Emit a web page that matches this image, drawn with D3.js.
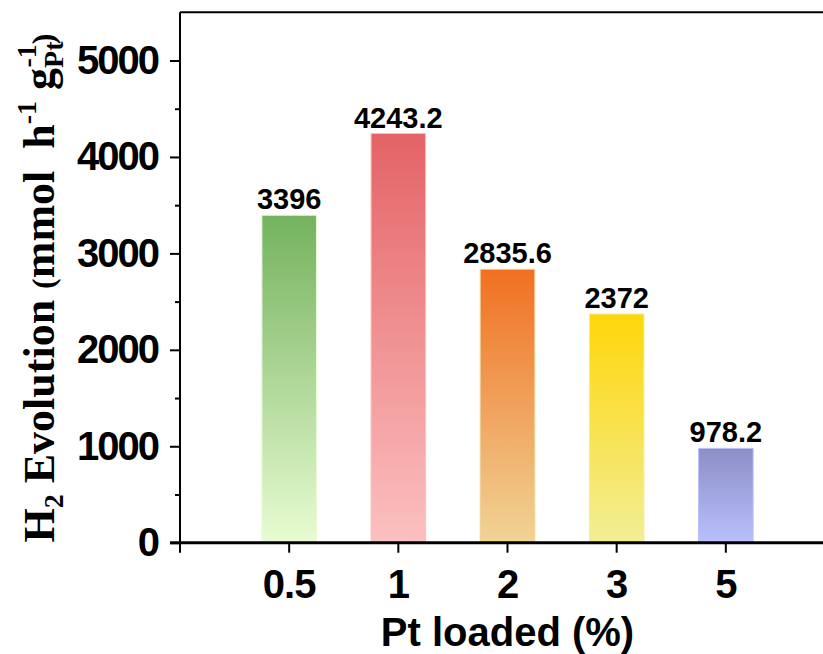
<!DOCTYPE html>
<html>
<head>
<meta charset="utf-8">
<script src="https://cdn.jsdelivr.net/npm/d3@7"></script>
<style>
  body { margin: 0; background: #fff; }
  svg { display: block; }
</style>
</head>
<body>
<svg width="823" height="654"></svg>
<script>
// data
var categories = ['0.5', '1', '2', '3', '5'];
var values = [3396, 4243.2, 2835.6, 2372, 978.2];
var valueLabels = ['3396', '4243.2', '2835.6', '2372', '978.2'];
var majorTicks = [0, 1000, 2000, 3000, 4000, 5000];
var minorTicks = [500, 1500, 2500, 3500, 4500];

// gradient colours, top -> bottom
var topColors = ['#74b25e', '#e46366', '#f07022', '#ffd60a', '#8d8ec6'];
var bottomColors = ['#e8fcd2', '#fcc0c0', '#f0d496', '#f2ee96', '#b8c0fe'];

var svg = d3.select('svg');

var x0 = 180, x1 = 835;
var step = (x1 - x0) / 6;

var xScale = d3.scaleBand()
  .domain(categories)
  .range([x0 + step / 2, x1 - step / 2])
  .paddingInner(0.5)
  .paddingOuter(0.25);

var yScale = d3.scaleLinear()
  .domain([0, 5500])
  .range([542.7, 12.3]);

/**
 * Gradients
 */
var defs = svg.append('defs');
categories.forEach(function (c, i) {
  var g = defs.append('linearGradient')
    .attr('id', 'grad' + i)
    .attr('x1', 0).attr('y1', 0)
    .attr('x2', 0).attr('y2', 1);
  g.append('stop').attr('offset', '0%').attr('stop-color', topColors[i]);
  g.append('stop').attr('offset', '100%').attr('stop-color', bottomColors[i]);
});

/**
 * Bars
 */
svg.selectAll('rect.bar')
  .data(values)
  .enter()
  .append('rect')
  .attr('class', 'bar')
  .attr('x', function (d, i) { return xScale(categories[i]); })
  .attr('width', xScale.bandwidth())
  .attr('y', function (d) { return yScale(d); })
  .attr('height', function (d) { return yScale(0) - yScale(d); })
  .attr('fill', function (d, i) { return 'url(#grad' + i + ')'; })
  .attr('stroke', function (d, i) { return bottomColors[i]; })
  .attr('stroke-width', 1);

svg.selectAll('text.val')
  .data(values)
  .enter()
  .append('text')
  .attr('class', 'val')
  .attr('x', function (d, i) { return xScale(categories[i]) + xScale.bandwidth() / 2; })
  .attr('y', function (d) { return yScale(d) - 6; })
  .attr('text-anchor', 'middle')
  .style('font-family', 'Liberation Sans, Arial, sans-serif')
  .style('font-weight', 'bold')
  .style('font-size', '29px')
  .text(function (d, i) { return valueLabels[i]; });

/**
 * Axes
 */
var fontSans = 'Liberation Sans, Arial, sans-serif';

var yAxis = d3.axisLeft(yScale)
  .tickValues(majorTicks)
  .tickFormat(d3.format('d'))
  .tickSize(10)
  .tickPadding(12)
  .tickSizeOuter(0);
var yg = svg.append('g')
  .attr('transform', 'translate(' + x0 + ',0)')
  .call(yAxis);
yg.select('.domain').remove();
yg.selectAll('line').attr('stroke', '#000').attr('stroke-width', 2);
yg.selectAll('text')
  .style('font-family', fontSans)
  .style('font-weight', 'bold')
  .style('font-size', '40px')
  .style('letter-spacing', '-2px')
  .attr('fill', '#000');

var yMinor = d3.axisLeft(yScale)
  .tickValues(minorTicks)
  .tickSize(5)
  .tickFormat('');
var ym = svg.append('g')
  .attr('transform', 'translate(' + x0 + ',0)')
  .call(yMinor);
ym.select('.domain').remove();
ym.selectAll('line').attr('stroke', '#000').attr('stroke-width', 2);

var xAxis = d3.axisBottom(xScale)
  .tickSize(10)
  .tickPadding(17)
  .tickSizeOuter(0);
var xg = svg.append('g')
  .attr('transform', 'translate(0,' + yScale(0) + ')')
  .call(xAxis);
xg.select('.domain').remove();
xg.selectAll('line').attr('stroke', '#000').attr('stroke-width', 2);
xg.selectAll('text')
  .style('font-family', fontSans)
  .style('font-weight', 'bold')
  .style('font-size', '40px')
  .style('letter-spacing', '-1px')
  .attr('fill', '#000');

// axis lines
svg.append('line')
  .attr('x1', x0).attr('x2', x0)
  .attr('y1', yScale(5500)).attr('y2', yScale(0) + 10)
  .attr('stroke', '#000').attr('stroke-width', 2);
svg.append('line')
  .attr('x1', x0).attr('x2', x1)
  .attr('y1', yScale(5500)).attr('y2', yScale(5500))
  .attr('stroke', '#000').attr('stroke-width', 2);
svg.append('line')
  .attr('x1', x0 - 10).attr('x2', x1)
  .attr('y1', yScale(0)).attr('y2', yScale(0))
  .attr('stroke', '#000').attr('stroke-width', 3);

/**
 * Labels
 */
svg.append('text')
  .attr('x', (x0 + x1) / 2)
  .attr('y', 646)
  .attr('text-anchor', 'middle')
  .style('font-family', fontSans)
  .style('font-weight', 'bold')
  .style('font-size', '40px')
  .text('Pt loaded (%)');

var yt = svg.append('text')
  .attr('transform', 'translate(54,288) rotate(-90)')
  .attr('text-anchor', 'middle')
  .style('font-family', 'Liberation Serif, Times New Roman, serif')
  .style('font-weight', 'bold')
  .style('font-size', '44px');
yt.append('tspan').text('H');
yt.append('tspan').attr('dy', 9).style('font-size', '28px').text('2');
yt.append('tspan').attr('dy', -9).text(' Evolution ');
yt.append('tspan').style('font-size', '32px').text('(');
yt.append('tspan').text('mmol\u00a0\u00a0h');
yt.append('tspan').attr('dy', -18).style('font-size', '28px').text('-1');
yt.append('tspan').attr('dy', 18).text(' g');
yt.append('tspan').attr('dy', 9).style('font-size', '28px').text('Pt');
yt.append('tspan').attr('dx', -26).attr('dy', -27).style('font-size', '28px').text('-1');
yt.append('tspan').attr('dy', 18).style('font-size', '32px').text(')');
</script>
</body>
</html>
